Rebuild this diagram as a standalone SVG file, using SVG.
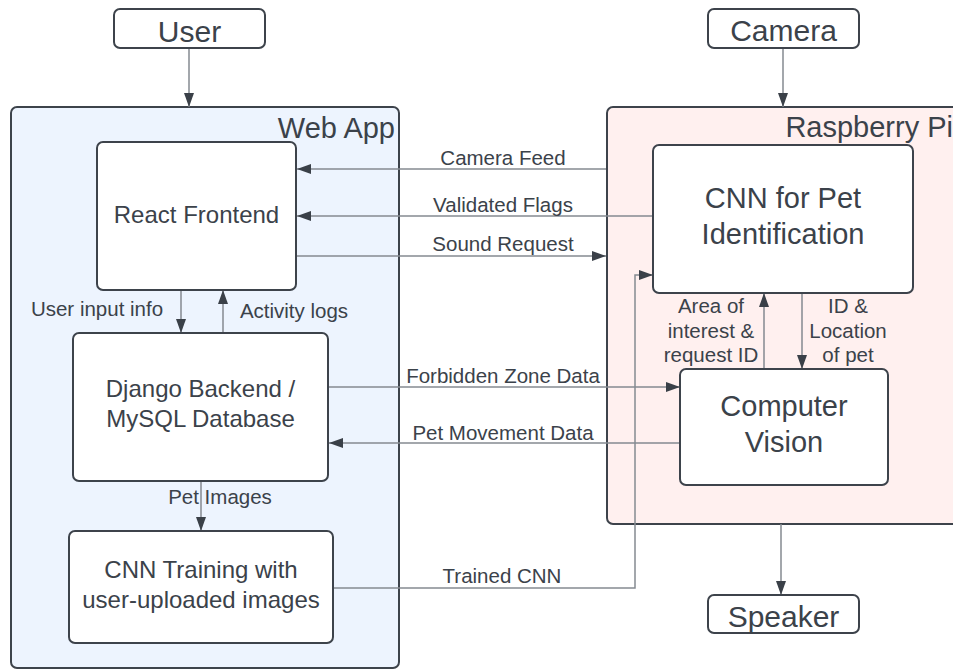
<svg xmlns="http://www.w3.org/2000/svg" width="953" height="670" viewBox="0 0 953 670">
<style>
.container{stroke:#3d434b;stroke-width:2}
.node{fill:#ffffff;stroke:#3d434b;stroke-width:2}
.t{font-family:"Liberation Sans",Arial,sans-serif;fill:#3b424a}
.big{font-size:30px}
.ct{font-size:29px}
.n24{font-size:24px}
.n29{font-size:29px}
.lbl{font-size:20.5px}
.edge{fill:none;stroke:#858a91;stroke-width:1.5}
</style>
<defs>
<marker id="ah" markerUnits="userSpaceOnUse" markerWidth="14" markerHeight="10" refX="14" refY="5" orient="auto">
<path d="M0,0 L14,5 L0,10 z" fill="#3a4048"/>
</marker>
</defs>
<rect width="953" height="670" fill="#ffffff"/>

<g id="webapp">
<rect class="container" x="11" y="107" width="388" height="561" rx="6" fill="#edf4fe"/>
<text class="t ct" x="395" y="138" text-anchor="end">Web App</text>
</g>
<g id="raspberrypi">
<rect class="container" x="607" y="107" width="360" height="417" rx="6" fill="#fff0ef"/>
<text class="t ct" x="953" y="137" text-anchor="end">Raspberry Pi</text>
</g>

<g id="connectors">
<line class="edge" x1="189" y1="48" x2="189" y2="107" marker-end="url(#ah)"/>
<line class="edge" x1="783" y1="48" x2="783" y2="107" marker-end="url(#ah)"/>
<line class="edge" x1="606" y1="169" x2="297" y2="169" marker-end="url(#ah)"/>
<text class="t lbl" x="503" y="165" text-anchor="middle">Camera Feed</text>
<line class="edge" x1="653" y1="216" x2="297" y2="216" marker-end="url(#ah)"/>
<text class="t lbl" x="503" y="212" text-anchor="middle">Validated Flags</text>
<line class="edge" x1="296" y1="256" x2="606" y2="256" marker-end="url(#ah)"/>
<text class="t lbl" x="503" y="251" text-anchor="middle">Sound Request</text>
<line class="edge" x1="181" y1="290" x2="181" y2="333" marker-end="url(#ah)"/>
<text class="t lbl" x="97" y="316" text-anchor="middle">User input info</text>
<line class="edge" x1="223" y1="333" x2="223" y2="290" marker-end="url(#ah)"/>
<text class="t lbl" x="294" y="318" text-anchor="middle">Activity logs</text>
<line class="edge" x1="328" y1="387" x2="680" y2="387" marker-end="url(#ah)"/>
<text class="t lbl" x="503" y="383" text-anchor="middle">Forbidden Zone Data</text>
<line class="edge" x1="680" y1="443" x2="329" y2="443" marker-end="url(#ah)"/>
<text class="t lbl" x="503" y="440" text-anchor="middle">Pet Movement Data</text>
<line class="edge" x1="201" y1="481" x2="201" y2="531" marker-end="url(#ah)"/>
<text class="t lbl" x="220" y="504" text-anchor="middle">Pet Images</text>
<polyline class="edge" points="333,588 635,588 635,275 653,275" marker-end="url(#ah)"/>
<text class="t lbl" x="502" y="583" text-anchor="middle">Trained CNN</text>
<line class="edge" x1="764" y1="369" x2="764" y2="293" marker-end="url(#ah)"/>
<text class="t lbl" x="711" y="313" text-anchor="middle">Area of</text>
<text class="t lbl" x="711" y="338" text-anchor="middle">interest &amp;</text>
<text class="t lbl" x="711" y="362" text-anchor="middle">request ID</text>
<line class="edge" x1="802" y1="293" x2="802" y2="369" marker-end="url(#ah)"/>
<text class="t lbl" x="848" y="313" text-anchor="middle">ID &amp;</text>
<text class="t lbl" x="848" y="338" text-anchor="middle">Location</text>
<text class="t lbl" x="848" y="362" text-anchor="middle">of pet</text>
<line class="edge" x1="781" y1="524" x2="781" y2="595" marker-end="url(#ah)"/>
</g>

<g id="user">
<rect class="node" x="114" y="9" width="151" height="39" rx="6"/>
<text class="t big" x="189.5" y="42" text-anchor="middle">User</text>
</g>
<g id="camera">
<rect class="node" x="708" y="9" width="151" height="39" rx="6"/>
<text class="t big" x="783.5" y="41" text-anchor="middle">Camera</text>
</g>
<g id="speaker">
<rect class="node" x="708" y="595" width="151" height="38" rx="6"/>
<text class="t big" x="783.5" y="627" text-anchor="middle">Speaker</text>
</g>
<g id="react">
<rect class="node" x="97" y="142" width="199" height="148" rx="6"/>
<text class="t n24" x="196.5" y="223" text-anchor="middle">React Frontend</text>
</g>
<g id="django">
<rect class="node" x="73" y="333" width="255" height="148" rx="6"/>
<text class="t n24" x="200.5" y="397" text-anchor="middle">Django Backend /</text>
<text class="t n24" x="200.5" y="427" text-anchor="middle">MySQL Database</text>
</g>
<g id="cnntraining">
<rect class="node" x="69" y="531" width="264" height="112" rx="6"/>
<text class="t n24" x="201" y="578" text-anchor="middle">CNN Training with</text>
<text class="t n24" x="201" y="608" text-anchor="middle">user-uploaded images</text>
</g>
<g id="cnnpet">
<rect class="node" x="653" y="145" width="260" height="148" rx="6"/>
<text class="t n29" x="783" y="208" text-anchor="middle">CNN for Pet</text>
<text class="t n29" x="783" y="244" text-anchor="middle">Identification</text>
</g>
<g id="cv">
<rect class="node" x="680" y="369" width="208" height="116" rx="6"/>
<text class="t n29" x="784" y="416" text-anchor="middle">Computer</text>
<text class="t n29" x="784" y="452" text-anchor="middle">Vision</text>
</g>
</svg>
